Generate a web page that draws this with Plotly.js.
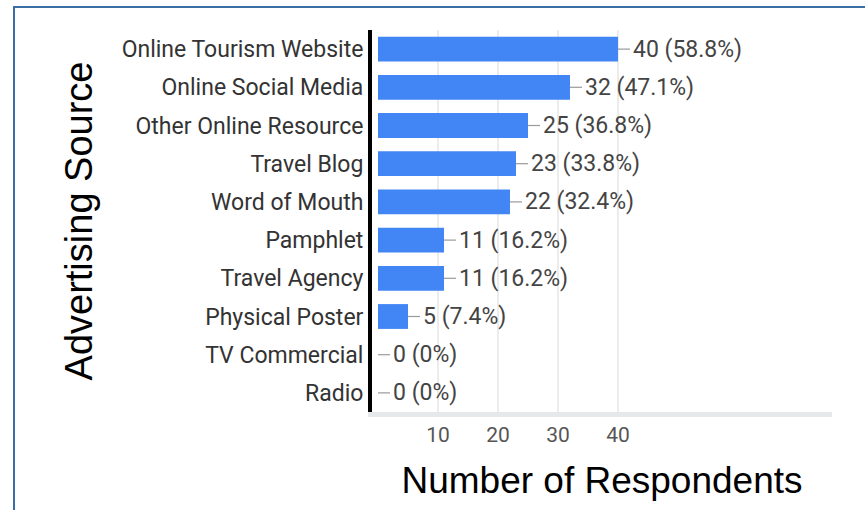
<!DOCTYPE html>
<html>
<head>
<meta charset="utf-8">
<script src="https://cdn.plot.ly/plotly-3.0.1.min.js"></script>
<style>
  html, body { margin: 0; padding: 0; background: #ffffff; }
  #wrap { position: relative; width: 865px; height: 510px; }
  #chart { position: absolute; left: 0; top: 0; width: 865px; height: 510px; }
  #frame { position: absolute; left: 13px; top: 6px; right: -4px; bottom: -4px;
           border-top: 2px solid #3a6ea5; border-left: 2px solid #3a6ea5; pointer-events: none; }
</style>
</head>
<body>
<div id="wrap">
  <div id="chart"></div>
  <div id="frame"></div>
</div>
<script>
// Data
const categories = [
  "Online Tourism Website", "Online Social Media", "Other Online Resource",
  "Travel Blog", "Word of Mouth", "Pamphlet", "Travel Agency",
  "Physical Poster", "TV Commercial", "Radio"
];
const respondents = [40, 32, 25, 23, 22, 11, 11, 5, 0, 0];
const percents = ["58.8%", "47.1%", "36.8%", "33.8%", "32.4%", "16.2%", "16.2%", "7.4%", "0%", "0%"];
const xTickValues = [10, 20, 30, 40];

const labels = respondents.map((v, i) => v + " (" + percents[i] + ")");

const trace = {
  type: "bar",
  orientation: "h",
  y: categories,
  x: respondents,
  marker: { color: "#4285F4" },
  error_x: { type: "constant", value: 2, symmetric: false, valueminus: 0,
             width: 0, thickness: 1.2, color: "#9a9a9a" },
  hoverinfo: "x+y"
};

const annotations = respondents.map((v, i) => ({
  x: v, y: categories[i], xref: "x", yref: "y",
  text: labels[i], showarrow: false, xanchor: "left", yanchor: "middle",
  xshift: 13,
  font: { family: "Roboto, Arial, sans-serif", size: 23, color: "#444444" }
}));

const layout = {
  width: 865, height: 510,
  margin: { l: 372, r: 33, t: 30, b: 98 },
  paper_bgcolor: "#ffffff",
  plot_bgcolor: "#ffffff",
  bargap: 0.35,
  showlegend: false,
  xaxis: {
    range: [-1, 75.67],
    tickvals: xTickValues,
    ticktext: xTickValues.map(String),
    showgrid: true, gridcolor: "#ececec", gridwidth: 2,
    zeroline: false,
    showline: true, linecolor: "#e6e8ea", linewidth: 5,
    tickfont: { family: "Roboto, Arial, sans-serif", size: 21, color: "#555555" },
    title: { text: "Number of Respondents", standoff: 22,
             font: { family: "Liberation Sans, Arial, sans-serif", size: 37, color: "#000000" } },
    fixedrange: true
  },
  yaxis: {
    autorange: "reversed",
    showgrid: false,
    zeroline: false,
    showline: true, linecolor: "#000000", linewidth: 4,
    ticks: "",
    tickfont: { family: "Roboto, Arial, sans-serif", size: 23, color: "#333333" },
    title: { text: "Advertising Source", standoff: 18,
             font: { family: "Liberation Sans, Arial, sans-serif", size: 38, color: "#000000" } },
    fixedrange: true
  },
  annotations: annotations
};

Plotly.newPlot("chart", [trace], layout, { displayModeBar: false, staticPlot: true });
</script>
</body>
</html>
